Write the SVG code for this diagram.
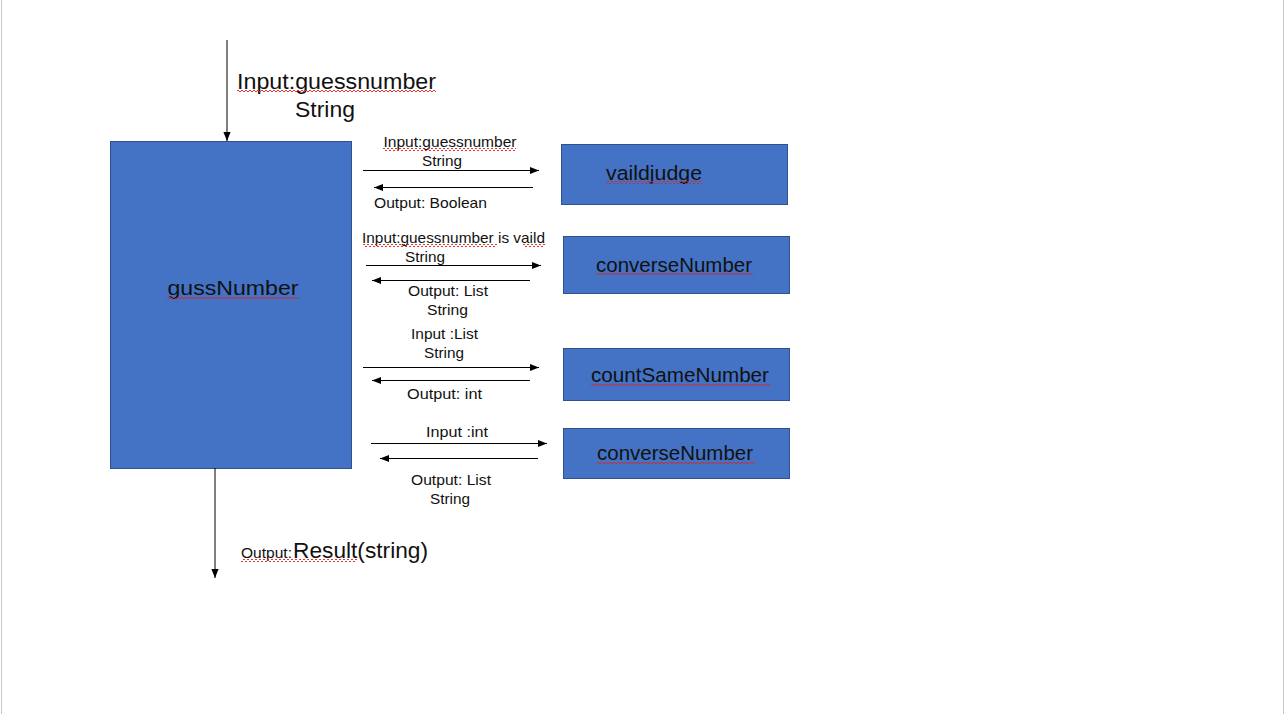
<svg xmlns="http://www.w3.org/2000/svg" width="1286" height="714" viewBox="0 0 1286 714">
<style>
.node{fill:#4472C4;stroke:#2F528F;stroke-width:1}
.nl{font-family:"Liberation Sans",Arial,sans-serif;font-size:20.5px;fill:#111;text-anchor:middle}
.sm{font-family:"Liberation Sans",Arial,sans-serif;font-size:15px;fill:#111;text-anchor:middle}
.lg{font-family:"Liberation Sans",Arial,sans-serif;font-size:22.5px;fill:#111}
.c{stroke:#000;stroke-width:1;fill:none;marker-end:url(#ah)}
.sq{fill:url(#sq)}
</style>
<defs>
<marker id="ah" viewBox="0 0 10 10" refX="10" refY="5" markerWidth="9" markerHeight="9" markerUnits="userSpaceOnUse" orient="auto">
<path d="M0 1 L10 5 L0 9 Z" fill="#000"/>
</marker>
<pattern id="sq" width="4" height="3" patternUnits="userSpaceOnUse">
<path d="M0 2 L1 1 L2 0 L3 1 L4 2" stroke="#e0201e" stroke-width="0.9" fill="none"/>
</pattern>
</defs>
<rect width="1286" height="714" fill="#fff"/>
<line x1="1.5" y1="0" x2="1.5" y2="714" stroke="#c8c8c8"/>
<line x1="1283.5" y1="0" x2="1283.5" y2="714" stroke="#c8c8c8"/>

<g id="gussNumber">
<rect class="node" x="110.5" y="141.5" width="241" height="327"/>
<text class="nl" x="233" y="295" textLength="131" lengthAdjust="spacingAndGlyphs">gussNumber</text>
<rect class="sq" x="167" y="296" width="132" height="3"/>
</g>
<g id="vaildjudge">
<rect class="node" x="561.5" y="144.5" width="226" height="60"/>
<text class="nl" x="654" y="180" textLength="96" lengthAdjust="spacingAndGlyphs">vaildjudge</text>
<rect class="sq" x="606" y="181" width="96" height="3"/>
</g>
<g id="converseNumber1">
<rect class="node" x="563.5" y="236.5" width="226" height="57"/>
<text class="nl" x="674" y="272" textLength="156" lengthAdjust="spacingAndGlyphs">converseNumber</text>
<rect class="sq" x="596" y="273" width="157" height="3"/>
</g>
<g id="countSameNumber">
<rect class="node" x="563.5" y="348.5" width="226" height="52"/>
<text class="nl" x="680" y="382" textLength="178" lengthAdjust="spacingAndGlyphs">countSameNumber</text>
<rect class="sq" x="591" y="383" width="179" height="3"/>
</g>
<g id="converseNumber2">
<rect class="node" x="563.5" y="428.5" width="226" height="50"/>
<text class="nl" x="675" y="460" textLength="156" lengthAdjust="spacingAndGlyphs">converseNumber</text>
<rect class="sq" x="597" y="461" width="158" height="3"/>
</g>

<g id="connectors">
<line class="c" x1="227" y1="40" x2="227" y2="141"/>
<line class="c" x1="215" y1="468" x2="215" y2="578"/>
<line class="c" x1="363" y1="170.5" x2="539" y2="170.5"/>
<line class="c" x1="533" y1="187.5" x2="374" y2="187.5"/>
<line class="c" x1="366" y1="265.5" x2="541" y2="265.5"/>
<line class="c" x1="530" y1="280.5" x2="372" y2="280.5"/>
<line class="c" x1="363" y1="367.5" x2="539" y2="367.5"/>
<line class="c" x1="530" y1="380.5" x2="372" y2="380.5"/>
<line class="c" x1="371" y1="443.5" x2="547" y2="443.5"/>
<line class="c" x1="538" y1="458.5" x2="380" y2="458.5"/>
</g>

<g id="labels">
<text class="lg" x="237" y="89" textLength="199" lengthAdjust="spacingAndGlyphs">Input:guessnumber</text>
<rect class="sq" x="237" y="90" width="199" height="3"/>
<text class="lg" x="325" y="117" text-anchor="middle" textLength="60" lengthAdjust="spacingAndGlyphs">String</text>

<text class="sm" x="450" y="147" textLength="133" lengthAdjust="spacingAndGlyphs">Input:guessnumber</text>
<rect class="sq" x="383" y="148" width="133" height="3"/>
<text class="sm" x="442" y="166" textLength="40" lengthAdjust="spacingAndGlyphs">String</text>
<text class="sm" x="430.5" y="208" textLength="113" lengthAdjust="spacingAndGlyphs">Output: Boolean</text>

<text class="sm" x="453.5" y="243" textLength="183" lengthAdjust="spacingAndGlyphs">Input:guessnumber is vaild</text>
<rect class="sq" x="363" y="244" width="134" height="3"/>
<rect class="sq" x="523" y="244" width="22" height="3"/>
<text class="sm" x="425" y="262" textLength="40" lengthAdjust="spacingAndGlyphs">String</text>
<text class="sm" x="448" y="296" textLength="80" lengthAdjust="spacingAndGlyphs">Output: List</text>
<text class="sm" x="447.5" y="315" textLength="41" lengthAdjust="spacingAndGlyphs">String</text>

<text class="sm" x="444.5" y="339" textLength="67" lengthAdjust="spacingAndGlyphs">Input :List</text>
<text class="sm" x="444" y="358" textLength="40" lengthAdjust="spacingAndGlyphs">String</text>
<text class="sm" x="444.5" y="399" textLength="75" lengthAdjust="spacingAndGlyphs">Output: int</text>

<text class="sm" x="457" y="437" textLength="62" lengthAdjust="spacingAndGlyphs">Input :int</text>
<text class="sm" x="451" y="485" textLength="80" lengthAdjust="spacingAndGlyphs">Output: List</text>
<text class="sm" x="450" y="504" textLength="40" lengthAdjust="spacingAndGlyphs">String</text>

<text class="sm" x="241" y="558" style="font-size:14px;text-anchor:start" textLength="51" lengthAdjust="spacingAndGlyphs">Output:</text>
<text class="lg" x="293" y="558" textLength="135" lengthAdjust="spacingAndGlyphs">Result(string)</text>
<rect class="sq" x="241" y="559" width="116" height="3"/>
</g>
</svg>
